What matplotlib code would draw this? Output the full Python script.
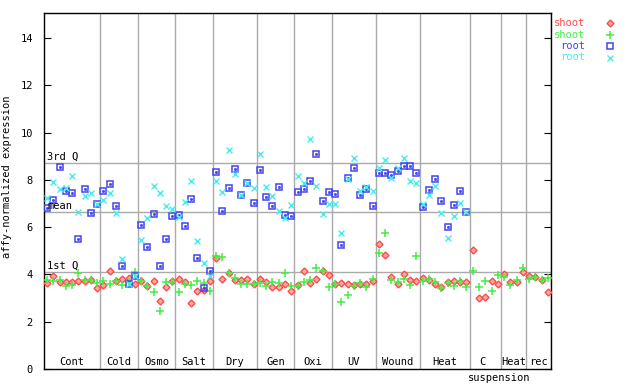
import numpy as np
import matplotlib
matplotlib.use('Agg')
import matplotlib.pyplot as plt
from matplotlib.lines import Line2D
import matplotlib.transforms as mtrans

groups = ['Cont', 'Cold', 'Osmo', 'Salt', 'Dry', 'Gen', 'Oxi', 'UV', 'Wound',
          'Heat', 'C\nsuspension', 'Heat', 'rec']
group_sizes = [9, 6, 6, 6, 7, 6, 6, 7, 7, 8, 5, 4, 4]

shoot_a = [3.64, 3.93, 3.69, 3.69, 3.69, 3.72, 3.73, 3.76, 3.44, 3.54,
           4.15, 3.72, 3.81, 3.84, 3.60, 3.72, 3.53, 3.72, 2.89, 3.45,
           3.72, 3.79, 3.68, 2.78, 3.30, 3.34, 3.72, 4.68, 3.79, 4.06,
           3.76, 3.76, 3.81, 3.60, 3.81, 3.68, 3.45, 3.45, 3.58, 3.30,
           3.55, 4.13, 3.64, 3.81, 4.13, 3.98, 3.60, 3.64, 3.60, 3.55,
           3.60, 3.60, 3.72, 5.27, 4.81, 3.89, 3.60, 4.02, 3.76, 3.72,
           3.85, 3.76, 3.60, 3.47, 3.68, 3.72, 3.68, 3.68, 5.02, 3.00,
           3.05, 3.72, 3.60, 4.02, 3.68, 3.68, 4.10, 3.93, 3.89, 3.76, 3.26]

shoot_b = [3.76, 3.74, 3.76, 3.51, 3.55, 4.06, 3.78, 3.76, 3.64, 3.72,
           3.58, 3.72, 3.55, 3.70, 4.12, 3.72, 3.53, 3.26, 2.47, 3.69,
           3.68, 3.26, 3.60, 3.54, 3.72, 3.64, 3.30, 4.78, 4.72, 4.06,
           3.85, 3.60, 3.58, 3.58, 3.64, 3.50, 3.68, 3.64, 4.06, 3.51,
           3.51, 3.68, 3.76, 4.26, 4.13, 3.45, 3.58, 2.82, 3.12, 3.51,
           3.64, 3.45, 3.81, 4.92, 5.74, 3.76, 3.68, 3.81, 3.54, 4.77,
           3.72, 3.81, 3.68, 3.41, 3.64, 3.51, 3.72, 3.47, 4.15, 3.47,
           3.72, 3.30, 3.98, 3.89, 3.55, 3.76, 4.27, 3.81, 3.89, 3.76, 3.85]

root_a = [6.82, 7.15, 8.53, 7.52, 7.43, 5.48, 7.61, 6.59, 6.97, 7.52,
          7.81, 6.88, 4.34, 3.58, 3.93, 6.09, 5.16, 6.54, 4.34, 5.48,
          6.46, 6.50, 6.05, 7.18, 4.68, 3.41, 4.13, 8.32, 6.67, 7.64,
          8.45, 7.35, 7.88, 7.01, 8.40, 7.26, 6.88, 7.68, 6.50, 6.46,
          7.47, 7.60, 7.94, 9.08, 7.09, 7.47, 7.39, 5.23, 8.07, 8.49,
          7.35, 7.60, 6.88, 8.28, 8.28, 8.19, 8.36, 8.57, 8.57, 8.28,
          6.84, 7.56, 8.02, 7.09, 5.99, 6.92, 7.52, 6.65]

root_b = [7.25, 7.91, 7.63, 7.67, 8.15, 6.63, 7.30, 7.43, 6.97, 7.13,
          7.43, 6.59, 4.64, 3.58, 3.93, 5.46, 6.39, 7.74, 7.43, 6.88,
          6.77, 6.41, 7.05, 7.94, 5.40, 4.47, 3.92, 7.94, 7.47, 9.25,
          8.23, 7.35, 7.85, 7.64, 9.08, 7.68, 7.30, 6.67, 6.37, 6.92,
          8.15, 7.85, 9.71, 7.73, 6.54, 6.97, 6.97, 5.74, 8.05, 8.91,
          7.52, 7.68, 7.52, 8.49, 8.83, 8.07, 8.49, 8.91, 7.94, 7.85,
          6.97, 7.35, 7.73, 6.59, 5.53, 6.46, 7.01, 6.65]

q3, mean_val, q1 = 8.71, 6.63, 4.10

mono = 'DejaVu Sans Mono'
plt.rcParams['font.family'] = mono

fig = plt.figure(figsize=(6.4, 3.84), dpi=100)
ax = fig.add_axes([44/640, 15/384, 507/640, 356/384])

n = sum(group_sizes)
x = np.arange(1, n + 1)
xr = np.arange(1, len(root_a) + 1)

red = '#ff4a4a'
green = '#44ee44'
blue = '#4444ee'
cyan = '#44eeee'

red_kw = dict(marker='D', ms=3.5, mfc='#ffaaaa', mec=red, mew=1)
green_kw = dict(marker='+', ms=5.5, mec=green, mew=1.1)
blue_kw = dict(marker='s', ms=4.5, mfc='none', mec=blue, mew=1.1)
cyan_kw = dict(marker='x', ms=4.5, mec=cyan, mew=1)

ax.plot(x, shoot_a, ls='none', zorder=3, **red_kw)
ax.plot(x, shoot_b, ls='none', zorder=3, **green_kw)
ax.plot(xr, root_a, ls='none', zorder=3, **blue_kw)
ax.plot(xr, root_a, ls='none', marker='s', ms=1, mfc=blue, mec=blue, zorder=3)
ax.plot(xr, root_b, ls='none', zorder=3, **cyan_kw)

# group separators and labels
trans = mtrans.blended_transform_factory(ax.transData, ax.transAxes)
edge = 0.5
for name, size in zip(groups, group_sizes):
    start = edge
    center = edge + size / 2
    edge += size
    ax.axvline(edge, color='#aaaaaa', lw=1, zorder=1)
    if '\n' in name:
        top, bottom = name.split('\n')
        ax.text(center - 0.5, 0.006, top, transform=trans, ha='center', va='bottom', fontsize=7.5)
        ax.text(start - 0.2, -0.012, bottom, transform=trans, ha='left', va='top',
                fontsize=7.5, clip_on=False)
    else:
        ax.text(center, 0.006, name, transform=trans, ha='center', va='bottom', fontsize=7.5,
                clip_on=True)

for val, lab in [(q3, '3rd Q'), (mean_val, 'mean'), (q1, '1st Q')]:
    ax.axhline(val, color='#aaaaaa', lw=1, zorder=1)
    ax.text(1.0, val + 0.05, lab, ha='left', va='bottom', fontsize=7.5, zorder=4)

ax.set_xlim(0.5, n + 0.5)
ax.set_ylim(0, 15.06)
ax.set_xticks([])
ax.set_yticks(np.arange(0, 15, 2))
ax.tick_params(axis='y', direction='in', length=5, right=True, labelsize=7.5, pad=8)
ax.set_ylabel('affy-normalized expression', fontsize=7.5)
ax.yaxis.set_label_coords(-0.063, 0.54)
for s in ax.spines.values():
    s.set_linewidth(1)

# legend at top right, outside the axes
leg = [('shoot', red, red_kw), ('shoot', green, green_kw),
       ('root', blue, blue_kw), ('root', cyan, cyan_kw)]
for k, (lab, col, kw) in enumerate(leg):
    yy = 1 - (23 + 11.5 * k) / 384
    fig.text(585/640, yy, lab, color=col, ha='right', va='center', fontsize=7.5)
    fig.add_artist(Line2D([610/640], [yy], transform=fig.transFigure, ls='none', **kw))

fig.savefig('out.png', dpi=100)
